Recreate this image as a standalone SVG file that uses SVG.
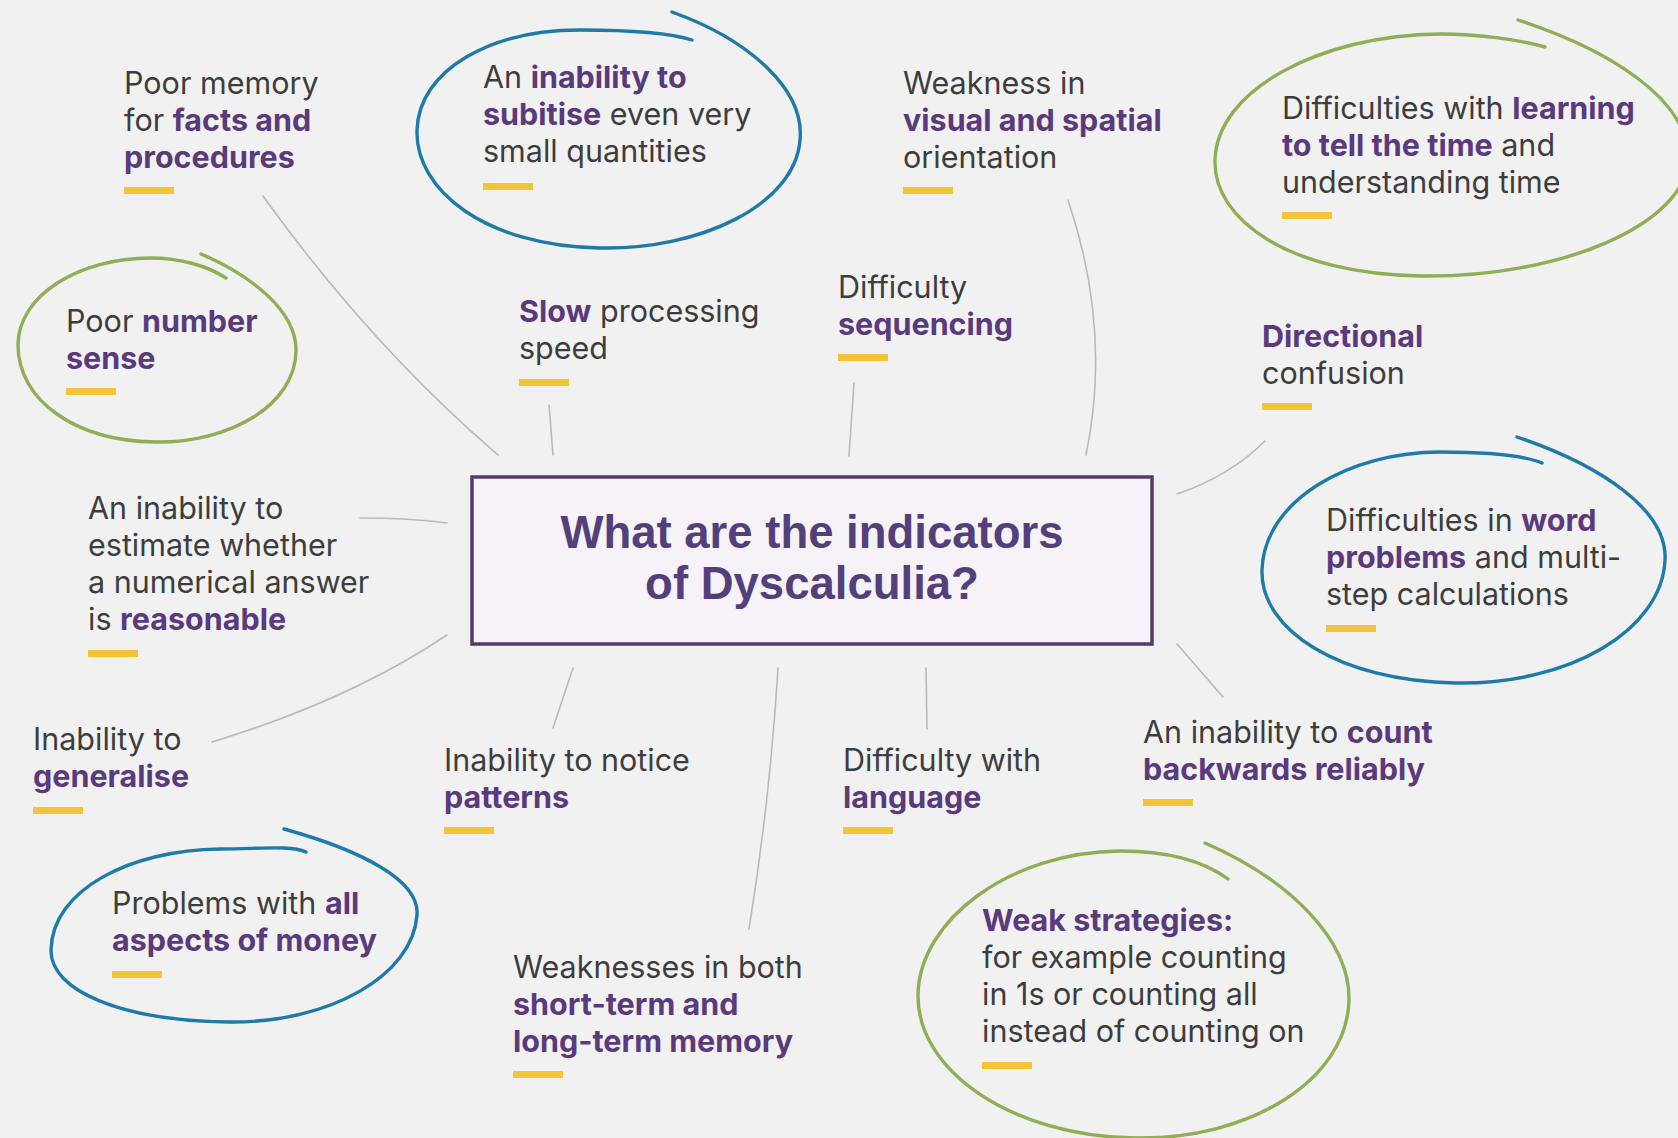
<svg xmlns="http://www.w3.org/2000/svg" width="1678" height="1138" viewBox="0 0 1678 1138">
  <style>
    .t { font-family: Inter, "Noto Sans", "Liberation Sans", sans-serif; font-size: 30.5px; fill: #3d3d3d; }
    .b { font-weight: 700; fill: #5a3a7c; }
    .title { font-family: "Liberation Sans", Arial, sans-serif; font-size: 45.5px; font-weight: 700; fill: #53407a; }
    .bar { fill: #f3c437; }
    .link { fill: none; stroke: #b9b9b9; stroke-width: 1.6; stroke-linecap: round; }
    .ring { fill: none; stroke-width: 3.4; stroke-linecap: round; stroke-linejoin: round; }
    .blue { stroke: #1f7aa8; }
    .green { stroke: #92ad55; }
  </style>

  <rect width="1678" height="1138" fill="#f1f1f1"/>

  <!-- connectors from the central question to each indicator -->
  <g id="connectors">
    <path class="link" d="M 263 196 Q 370 345 498 455"/>
    <path class="link" d="M 549 405 L 553 455"/>
    <path class="link" d="M 854 383 L 849 456"/>
    <path class="link" d="M 1068 200 Q 1112 330 1086 455"/>
    <path class="link" d="M 1265 441 Q 1230 476 1177 494"/>
    <path class="link" d="M 360 518 Q 410 518 447 523"/>
    <path class="link" d="M 212 742 Q 350 700 447 635"/>
    <path class="link" d="M 573 668 L 553 728"/>
    <path class="link" d="M 778 668 Q 770 800 749 929"/>
    <path class="link" d="M 926 668 L 927 729"/>
    <path class="link" d="M 1177 644 L 1223 697"/>
  </g>

  <!-- central question -->
  <g id="centre">
    <rect x="472" y="477" width="680" height="167" fill="#f6f2f7" stroke="#4f3d6e" stroke-width="3.5"/>
    <text class="title" x="812" y="548" text-anchor="middle">What are the indicators</text>
    <text class="title" x="812" y="599" text-anchor="middle">of Dyscalculia?</text>
  </g>

  <g id="memory-facts">
    <text class="t" x="124" y="94">Poor memory</text>
    <text class="t" x="124" y="131">for <tspan class="b">facts and</tspan></text>
    <text class="t b" x="124" y="168">procedures</text>
    <rect class="bar" x="124" y="187" width="50" height="7"/>
  </g>

  <g id="subitise">
    <path class="ring blue" d="M 672 12 C 750 40, 805 90, 800 140 C 795 205, 700 250, 600 248 C 485 246, 415 190, 417 130 C 419 70, 490 30, 580 30 C 630 30, 670 33, 692 40"/>
    <text class="t" x="483" y="88">An <tspan class="b">inability to</tspan></text>
    <text class="t" x="483" y="125"><tspan class="b">subitise</tspan> even very</text>
    <text class="t" x="483" y="162">small quantities</text>
    <rect class="bar" x="483" y="183" width="50" height="7"/>
  </g>

  <g id="visual-spatial">
    <text class="t" x="903" y="94">Weakness in</text>
    <text class="t b" x="903" y="131">visual and spatial</text>
    <text class="t" x="903" y="168">orientation</text>
    <rect class="bar" x="903" y="187" width="50" height="7"/>
  </g>

  <g id="telling-time">
    <path class="ring green" d="M 1518 20 C 1610 50, 1690 100, 1688 160 C 1685 225, 1560 278, 1420 276 C 1290 274, 1213 220, 1215 160 C 1217 90, 1320 35, 1440 34 C 1480 34, 1520 40, 1545 47"/>
    <text class="t" x="1282" y="119">Difficulties with <tspan class="b">learning</tspan></text>
    <text class="t" x="1282" y="156"><tspan class="b">to tell the time</tspan> and</text>
    <text class="t" x="1282" y="193">understanding time</text>
    <rect class="bar" x="1282" y="212" width="50" height="7"/>
  </g>

  <g id="number-sense">
    <path class="ring green" d="M 201 254 C 250 275, 296 310, 296 350 C 296 405, 230 443, 155 442 C 75 441, 18 400, 18 345 C 18 295, 80 258, 150 258 C 180 258, 208 266, 226 278"/>
    <text class="t" x="66" y="332">Poor <tspan class="b">number</tspan></text>
    <text class="t b" x="66" y="369">sense</text>
    <rect class="bar" x="66" y="388" width="50" height="7"/>
  </g>

  <g id="processing-speed">
    <text class="t" x="519" y="322"><tspan class="b">Slow</tspan> processing</text>
    <text class="t" x="519" y="359">speed</text>
    <rect class="bar" x="519" y="379" width="50" height="7"/>
  </g>

  <g id="sequencing">
    <text class="t" x="838" y="298">Difficulty</text>
    <text class="t b" x="838" y="335">sequencing</text>
    <rect class="bar" x="838" y="354" width="50" height="7"/>
  </g>

  <g id="directional">
    <text class="t b" x="1262" y="347">Directional</text>
    <text class="t" x="1262" y="384">confusion</text>
    <rect class="bar" x="1262" y="403" width="50" height="7"/>
  </g>

  <g id="estimation">
    <text class="t" x="88" y="519">An inability to</text>
    <text class="t" x="88" y="556">estimate whether</text>
    <text class="t" x="88" y="593">a numerical answer</text>
    <text class="t" x="88" y="630">is <tspan class="b">reasonable</tspan></text>
    <rect class="bar" x="88" y="650" width="50" height="7"/>
  </g>

  <g id="word-problems">
    <path class="ring blue" d="M 1517 437 C 1600 465, 1668 510, 1665 560 C 1662 630, 1570 685, 1455 683 C 1340 681, 1260 630, 1262 570 C 1264 500, 1350 452, 1440 452 C 1490 452, 1525 456, 1542 463"/>
    <text class="t" x="1326" y="531">Difficulties in <tspan class="b">word</tspan></text>
    <text class="t" x="1326" y="568"><tspan class="b">problems</tspan> and multi-</text>
    <text class="t" x="1326" y="605">step calculations</text>
    <rect class="bar" x="1326" y="625" width="50" height="7"/>
  </g>

  <g id="generalise">
    <text class="t" x="33" y="750">Inability to</text>
    <text class="t b" x="33" y="787">generalise</text>
    <rect class="bar" x="33" y="807" width="50" height="7"/>
  </g>

  <g id="patterns">
    <text class="t" x="444" y="771">Inability to notice</text>
    <text class="t b" x="444" y="808">patterns</text>
    <rect class="bar" x="444" y="827" width="50" height="7"/>
  </g>

  <g id="language">
    <text class="t" x="843" y="771">Difficulty with</text>
    <text class="t b" x="843" y="808">language</text>
    <rect class="bar" x="843" y="827" width="50" height="7"/>
  </g>

  <g id="count-backwards">
    <text class="t" x="1143" y="743">An inability to <tspan class="b">count</tspan></text>
    <text class="t b" x="1143" y="780">backwards reliably</text>
    <rect class="bar" x="1143" y="799" width="50" height="7"/>
  </g>

  <g id="money">
    <path class="ring blue" d="M 284 829 C 360 850, 420 880, 417 915 C 413 975, 330 1023, 230 1022 C 120 1021, 50 990, 51 950 C 52 890, 130 850, 220 849 C 260 849, 290 845, 306 852"/>
    <text class="t" x="112" y="914">Problems with <tspan class="b">all</tspan></text>
    <text class="t b" x="112" y="951">aspects of money</text>
    <rect class="bar" x="112" y="971" width="50" height="7"/>
  </g>

  <g id="short-long-memory">
    <text class="t" x="513" y="978">Weaknesses in both</text>
    <text class="t b" x="513" y="1015">short-term and</text>
    <text class="t b" x="513" y="1052">long-term memory</text>
    <rect class="bar" x="513" y="1071" width="50" height="7"/>
  </g>

  <g id="strategies">
    <path class="ring green" d="M 1205 843 C 1290 880, 1350 940, 1349 1000 C 1347 1080, 1250 1140, 1135 1138 C 1010 1136, 917 1070, 918 995 C 919 920, 1010 852, 1120 851 C 1170 851, 1205 862, 1228 879"/>
    <text class="t b" x="982" y="931">Weak strategies:</text>
    <text class="t" x="982" y="968">for example counting</text>
    <text class="t" x="982" y="1005">in 1s or counting all</text>
    <text class="t" x="982" y="1042">instead of counting on</text>
    <rect class="bar" x="982" y="1062" width="50" height="7"/>
  </g>
</svg>
